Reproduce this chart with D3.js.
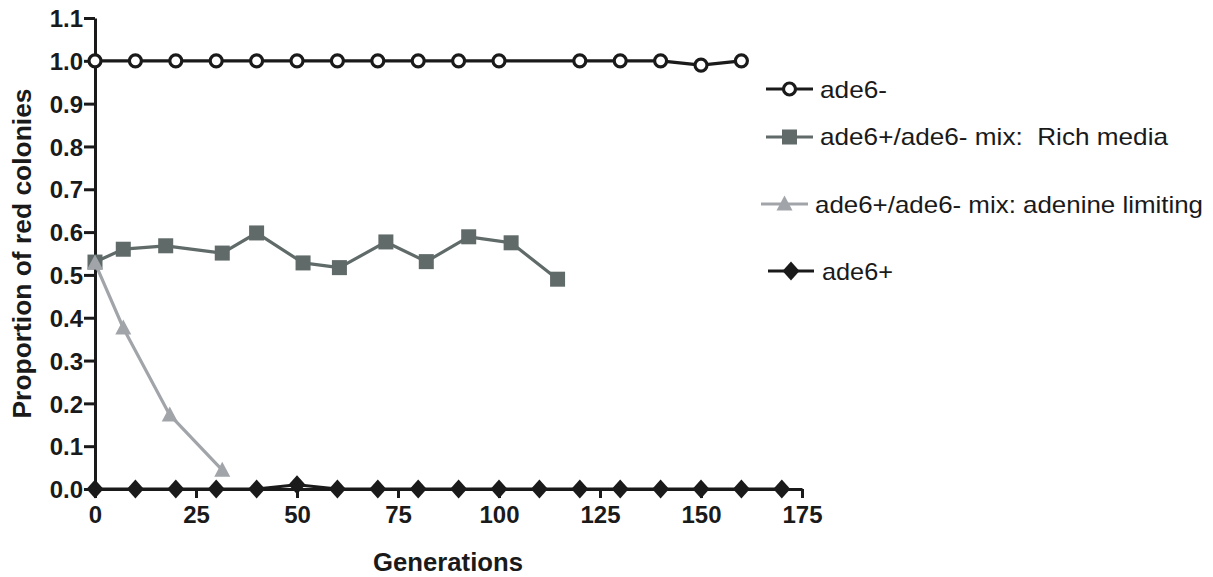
<!DOCTYPE html>
<html>
<head>
<meta charset="utf-8">
<script src="https://cdn.jsdelivr.net/npm/d3@7"></script>
<style>
  html, body { margin: 0; padding: 0; background: #ffffff; }
  svg { display: block; }
  text { font-family: "Liberation Sans", Arial, Helvetica, sans-serif; }
</style>
</head>
<body>
<svg id="chart" width="1213" height="577"></svg>
<script>
// ---- data ----
const ade6MinusGen = [0, 10, 20, 30, 40, 50, 60, 70, 80, 90, 100, 120, 130, 140, 150, 160];
const ade6MinusVal = [1.0, 1.0, 1.0, 1.0, 1.0, 1.0, 1.0, 1.0, 1.0, 1.0, 1.0, 1.0, 1.0, 1.0, 0.99, 1.0];

const richGen = [0, 7, 17.5, 31.5, 40, 51.5, 60.5, 72, 82, 92.5, 103, 114.5];
const richVal = [0.53, 0.56, 0.568, 0.551, 0.598, 0.528, 0.517, 0.577, 0.531, 0.589, 0.575, 0.49];

const adenineGen = [0, 7, 18.5, 31.5];
const adenineVal = [0.528, 0.376, 0.173, 0.044];

const ade6PlusGen = [0, 10, 20, 30, 40, 50, 60, 70, 80, 90, 100, 110, 120, 130, 140, 150, 160, 170];
const ade6PlusVal = [0, 0, 0, 0, 0, 0.01, 0, 0, 0, 0, 0, 0, 0, 0, 0, 0, 0, 0];

const xTicks = [0, 25, 50, 75, 100, 125, 150, 175];
const yTicks = [0.0, 0.1, 0.2, 0.3, 0.4, 0.5, 0.6, 0.7, 0.8, 0.9, 1.0, 1.1];

const seriesNames = ["ade6-", "ade6+/ade6- mix:  Rich media", "ade6+/ade6- mix: adenine limiting", "ade6+"];

// ---- layout ----
const svg = d3.select("#chart");
const x = d3.scaleLinear().domain([0, 175]).range([95, 802]);
const y = d3.scaleLinear().domain([0, 1.1]).range([489, 18]);
const axisColor = "#1a1a1a";

// axes
const gx = svg.append("g").attr("transform", `translate(0,${y(0)})`)
  .call(d3.axisBottom(x).tickValues(xTicks).tickSize(9).tickSizeOuter(0).tickPadding(10).tickFormat(d3.format("d")));
const gy = svg.append("g").attr("transform", `translate(${x(0)},0)`)
  .call(d3.axisLeft(y).tickValues(yTicks).tickSize(11).tickSizeOuter(0).tickPadding(2).tickFormat(d3.format(".1f")));

[gx, gy].forEach(g => {
  g.attr("font-size", null).attr("font-family", null);
  g.select(".domain").attr("stroke", axisColor).attr("stroke-width", 3);
  g.selectAll(".tick line").attr("stroke", axisColor).attr("stroke-width", 3);
  g.selectAll(".tick text").attr("fill", "#1a1a1a")
    .style("font-size", "24px").style("font-weight", "bold")
    .style("font-family", '"Liberation Sans", Arial, sans-serif');
});
gx.selectAll(".tick text").attr("dy", "0.71em").attr("y", 17);
gy.selectAll(".tick text").attr("x", -12).attr("dy", "0.36em");

// axis titles
svg.append("text")
  .attr("x", 448).attr("y", 571)
  .attr("text-anchor", "middle")
  .attr("textLength", 150).attr("lengthAdjust", "spacingAndGlyphs")
  .style("font-size", "26px").style("font-weight", "bold").attr("fill", "#1a1a1a")
  .text("Generations");

svg.append("text")
  .attr("transform", `translate(31,${(y(0) + y(1.1)) / 2}) rotate(-90)`)
  .attr("text-anchor", "middle")
  .attr("textLength", 330).attr("lengthAdjust", "spacingAndGlyphs")
  .style("font-size", "26px").style("font-weight", "bold").attr("fill", "#1a1a1a")
  .text("Proportion of red colonies");

// series
const line = d3.line().x(d => x(d[0])).y(d => y(d[1]));
const zip = (a, b) => a.map((v, i) => [v, b[i]]);

const series = [
  { gen: ade6MinusGen, val: ade6MinusVal, color: "#1a1a1a", symbol: "circle" },
  { gen: richGen, val: richVal, color: "#5f6a69", symbol: "square" },
  { gen: adenineGen, val: adenineVal, color: "#a1a5a9", symbol: "triangle" },
  { gen: ade6PlusGen, val: ade6PlusVal, color: "#1a1a1a", symbol: "diamond" }
];

function drawMarker(g, s, cx, cy) {
  if (s.symbol === "circle") {
    g.append("circle").attr("cx", cx).attr("cy", cy).attr("r", 6)
      .attr("fill", "#ffffff").attr("stroke", s.color).attr("stroke-width", 3.2);
  } else if (s.symbol === "square") {
    g.append("rect").attr("x", cx - 7.5).attr("y", cy - 7.5).attr("width", 15).attr("height", 15)
      .attr("fill", s.color);
  } else if (s.symbol === "triangle") {
    g.append("path").attr("d", `M${cx},${cy - 8.5}L${cx + 8},${cy + 6.5}L${cx - 8},${cy + 6.5}Z`)
      .attr("fill", s.color);
  } else if (s.symbol === "diamond") {
    g.append("path").attr("d", `M${cx},${cy - 9.5}L${cx + 8.5},${cy}L${cx},${cy + 9.5}L${cx - 8.5},${cy}Z`)
      .attr("fill", s.color);
  }
}

series.forEach(s => {
  const g = svg.append("g");
  const pts = zip(s.gen, s.val);
  g.append("path").datum(pts).attr("d", line)
    .attr("fill", "none").attr("stroke", s.color).attr("stroke-width", 3.2)
    .attr("stroke-linejoin", "round");
  pts.forEach(p => drawMarker(g, s, x(p[0]), y(p[1])));
});

// legend
const legendRows = [
  { lx1: 766, lx2: 813, ly: 89, ty: 98, tx: 820, tl: 67 },
  { lx1: 766, lx2: 813, ly: 137, ty: 145, tx: 820, tl: 348 },
  { lx1: 761, lx2: 808, ly: 204, ty: 213, tx: 815, tl: 388 },
  { lx1: 768, lx2: 814, ly: 271, ty: 280, tx: 822, tl: 71 }
];
legendRows.forEach((r, i) => {
  const s = series[i];
  const g = svg.append("g");
  g.append("line").attr("x1", r.lx1).attr("x2", r.lx2).attr("y1", r.ly).attr("y2", r.ly)
    .attr("stroke", s.color).attr("stroke-width", 3.2);
  drawMarker(g, s, (r.lx1 + r.lx2) / 2, r.ly);
  g.append("text").attr("x", r.tx).attr("y", r.ty)
    .attr("textLength", r.tl).attr("lengthAdjust", "spacingAndGlyphs")
    .attr("xml:space", "preserve").style("white-space", "pre")
    .style("font-size", "24px").attr("fill", "#1a1a1a")
    .text(seriesNames[i]);
});
</script>
</body>
</html>
